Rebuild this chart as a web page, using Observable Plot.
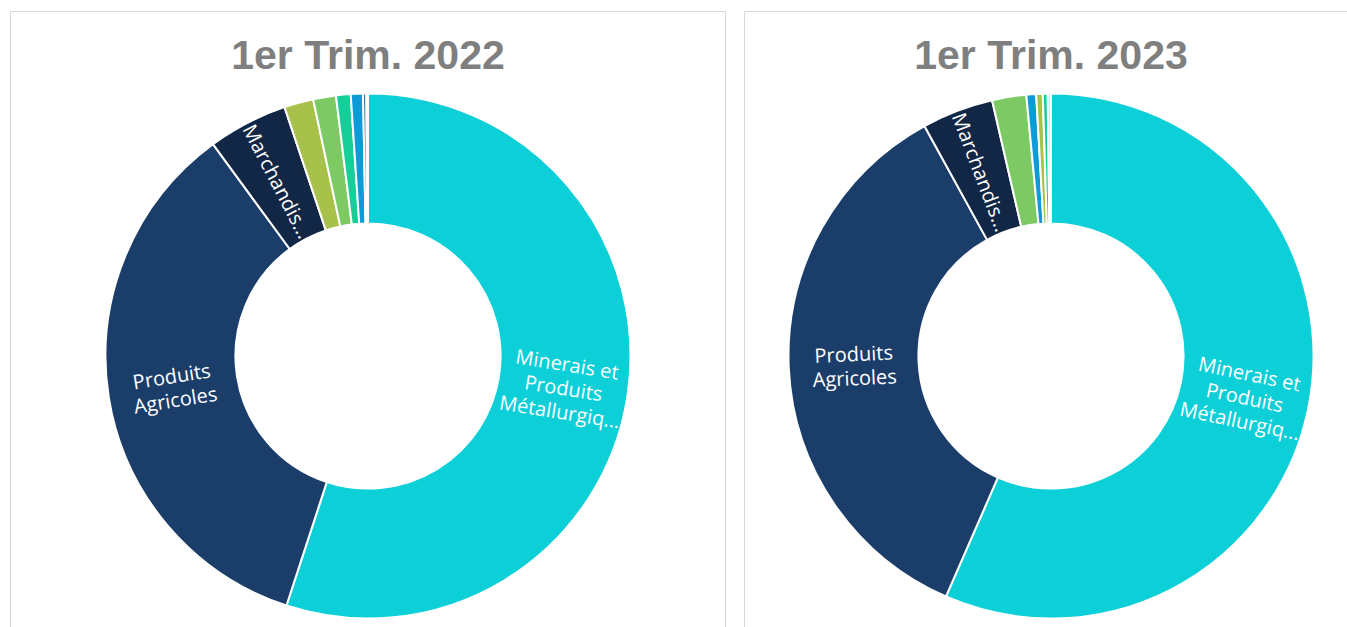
<!DOCTYPE html>
<html><head><meta charset="utf-8">
<script src="https://cdn.jsdelivr.net/npm/d3@7"></script>
<script src="https://cdn.jsdelivr.net/npm/@observablehq/plot@0.6"></script>
<style>
body{margin:0;background:#fff;width:1347px;height:627px;overflow:hidden;position:relative;font-family:"Liberation Sans",Arial,sans-serif}
.panel{position:absolute;top:11px;height:700px;border:1px solid #d9d9d9;box-sizing:border-box;background:#fff}
.title{position:absolute;top:35px;font-size:41px;line-height:41px;font-weight:bold;color:#7f7f7f;text-align:center;width:600px;white-space:nowrap}
.chart{position:absolute}
</style></head><body>
<div class="panel" style="left:10px;width:716px"></div>
<div class="panel" style="left:744px;width:720px"></div>
<script>
// Categories and their colours
const categories = [
  "Minerais et Produits Métallurgiques",
  "Produits Agricoles",
  "Marchandises",
  "Catégorie 4",
  "Catégorie 5",
  "Catégorie 6",
  "Catégorie 7",
  "Catégorie 8",
  "Catégorie 9"
];
const palette = ["#0ccfd8","#1a3e69","#112745","#a8c14a","#7dca64","#16cf98","#0a9bd8","#2a5a7a","#c5e8ee"];
const displayLabels = ["Minerais et\nProduits\nMétallurgiq...", "Produits\nAgricoles", "Marchandis...", "", "", "", "", "", ""];

const titles = ["1er Trim. 2022", "1er Trim. 2023"];

// Slices in clockwise order from 12 o'clock (share, %)
const slices2022 = ["Minerais et Produits Métallurgiques","Produits Agricoles","Marchandises","Catégorie 4","Catégorie 5","Catégorie 6","Catégorie 7","Catégorie 8","Catégorie 9"];
const values2022 = [55.0, 34.9, 4.9, 1.8, 1.4, 0.9, 0.75, 0.2, 0.1];

const slices2023 = ["Minerais et Produits Métallurgiques","Produits Agricoles","Marchandises","Catégorie 5","Catégorie 7","Catégorie 4","Catégorie 6","Catégorie 9"];
const values2023 = [56.5, 35.4, 4.4, 2.1, 0.6, 0.4, 0.3, 0.2];

const SIZE = 540, ROUT_PX = 262.5;
const D = (SIZE / 2) / ROUT_PX;

function donut(names, vals) {
  const data = names.map((c, i) => ({category: c, value: vals[i]}));
  const arcs = d3.pie().sort(null).value(d => d.value)(data);
  const rIn = 0.505, rOut = 1, rMid = (rIn + rOut) / 2;
  const lab = arcs.filter(a => displayLabels[categories.indexOf(a.data.category)]).map(a => {
    const m = (a.startAngle + a.endAngle) / 2;
    const deg = m * 180 / Math.PI;
    return {
      text: displayLabels[categories.indexOf(a.data.category)],
      x: rMid * Math.sin(m),
      y: rMid * Math.cos(m),
      rotate: deg < 180 ? deg - 90 : deg - 270
    };
  });
  return Plot.plot({
    width: SIZE, height: SIZE, margin: 0,
    x: {domain: [-D, D], axis: null},
    y: {domain: [-D, D], axis: null},
    color: {domain: categories, range: palette},
    marks: [
      Plot.dot(data, {x: d => 0, y: d => 0, r: 0, fill: "category"}),
      (index, scales) => {
        const g = d3.create("svg:g");
        const cx = scales.x(0), cy = scales.y(0), k = scales.x(1) - scales.x(0);
        const arc = d3.arc().innerRadius(rIn * k).outerRadius(rOut * k);
        g.attr("transform", `translate(${cx},${cy})`);
        g.selectAll("path").data(arcs).join("path")
          .attr("d", arc)
          .attr("fill", d => scales.color(d.data.category))
          .attr("stroke", "#fff")
          .attr("stroke-width", 2)
          .attr("stroke-linejoin", "round");
        return g.node();
      },
      Plot.text(lab, {x: "x", y: "y", text: "text", rotate: "rotate", fill: "white",
        fontSize: 20, lineHeight: 1.2, fontFamily: "Open Sans"})
    ]
  });
}

const centers = [368, 1051];
const sets = [[slices2022, values2022], [slices2023, values2023]];
sets.forEach(([n, v], i) => {
  const t = document.createElement("div");
  t.className = "title";
  t.textContent = titles[i];
  t.style.left = (centers[i] - 300) + "px";
  document.body.appendChild(t);
  const c = document.createElement("div");
  c.className = "chart";
  c.style.left = (centers[i] - SIZE / 2) + "px";
  c.style.top = (355.5 - SIZE / 2) + "px";
  c.appendChild(donut(n, v));
  document.body.appendChild(c);
});
</script>
</body></html>
